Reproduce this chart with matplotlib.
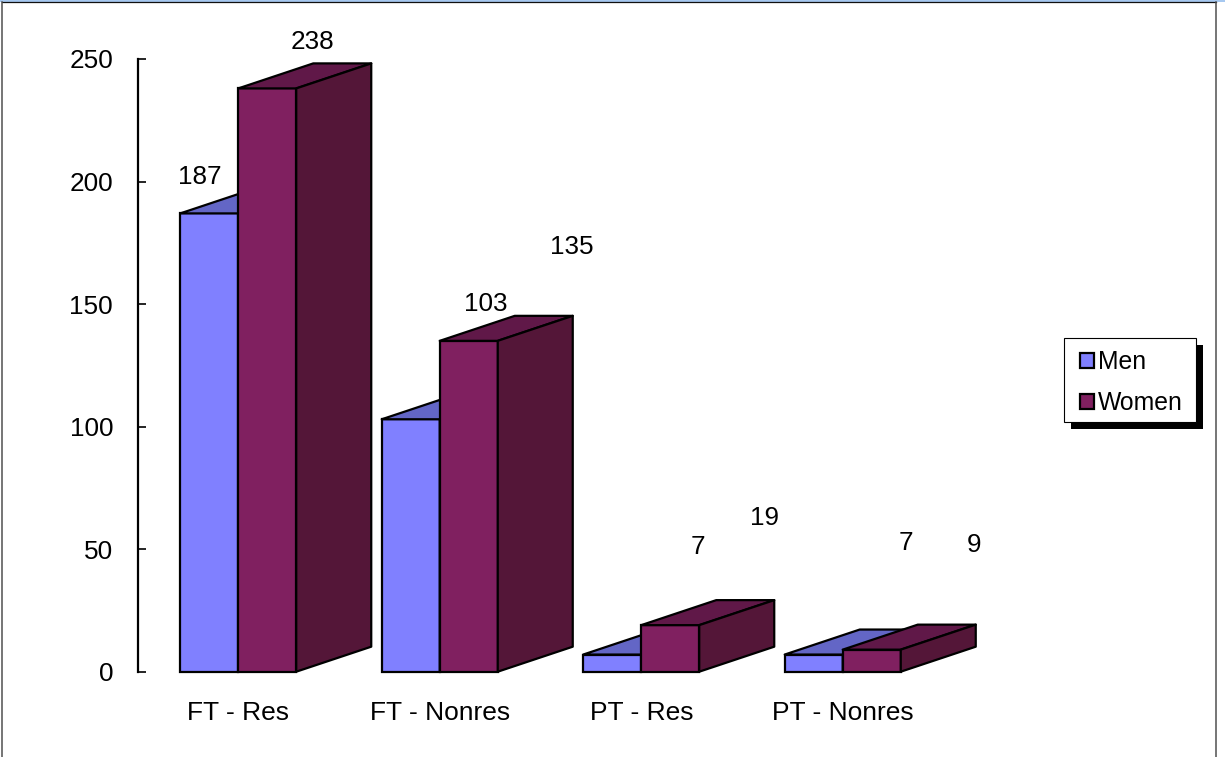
import matplotlib.pyplot as plt
from matplotlib.lines import Line2D
from matplotlib.patches import Polygon, Rectangle

plt.rcParams['font.family'] = ['Liberation Sans', 'DejaVu Sans']

categories = ["FT - Res", "FT - Nonres", "PT - Res", "PT - Nonres"]
men = [187, 103, 7, 7]
women = [238, 135, 19, 9]
y_ticks = [0, 50, 100, 150, 200, 250]

# where the value labels sit, pixels away from the top middle of the bar
men_offsets = [(-9.5, 36), (74.5, 115.5), (85.5, 108), (92.5, 112)]
women_offsets = [(45, 46), (103.5, 93.5), (94.5, 107), (102.5, 105)]

W, H = 1225, 757
fig = plt.figure(figsize=(W / 100, H / 100), dpi=100, facecolor='white')
ax = fig.add_axes([137.5 / W, 1 - 671.7 / H, 806 / W, 612.7 / H])
ax.set_xlim(-0.5, 3.5)
ax.set_ylim(0, 250)
ax.patch.set_alpha(0)

bar_w = 58 / 201.5
depth_x = 75 / 201.5
depth_y = 25 / 2.45
lw = 1.6


def draw_bars(x_left, values, front, top, side, label, offsets):
    bars = ax.bar(x_left, values, bar_w, align='edge', color=front, edgecolor='black',
                  linewidth=lw, label=label, clip_on=False, zorder=3)
    for bar, v, off in zip(bars, values, offsets):
        x0 = bar.get_x()
        x1 = x0 + bar_w
        top_face = [(x0, v), (x1, v), (x1 + depth_x, v + depth_y), (x0 + depth_x, v + depth_y)]
        side_face = [(x1, 0), (x1 + depth_x, depth_y), (x1 + depth_x, v + depth_y), (x1, v)]
        ax.add_patch(Polygon(top_face, facecolor=top, edgecolor='black', linewidth=lw,
                             joinstyle='round', clip_on=False, zorder=3))
        ax.add_patch(Polygon(side_face, facecolor=side, edgecolor='black', linewidth=lw,
                             joinstyle='round', clip_on=False, zorder=3))
        ax.annotate(str(v), (x0 + bar_w / 2, v), xytext=off, textcoords='offset pixels',
                    ha='center', va='center', fontsize=18.8, zorder=6)


for i in range(len(categories)):
    # men first so the women block covers them, group by group
    draw_bars([i - bar_w], [men[i]], '#8080ff', '#6366c6', '#40408c',
              'Men' if i == 0 else None, [men_offsets[i]])
    draw_bars([i], [women[i]], '#802060', '#601848', '#541638',
              'Women' if i == 0 else None, [women_offsets[i]])

ax.set_xticks(range(len(categories)))
ax.set_xticklabels(categories, fontsize=19)
ax.tick_params(axis='x', length=0, pad=21)
ax.set_yticks(y_ticks)
ax.tick_params(axis='y', direction='in', length=5.8, width=1.2, pad=17.6, labelsize=18.8)
for name in ['top', 'right', 'bottom']:
    ax.spines[name].set_visible(False)
ax.spines['left'].set_linewidth(1.6)

# legend box and its hard shadow, the entries go on top without a frame
fig.add_artist(Rectangle((1071 / W, 1 - 429 / H), 132 / W, 84 / H, transform=fig.transFigure,
                         facecolor='black', edgecolor='none'))
fig.add_artist(Rectangle((1064 / W, 1 - 422 / H), 132 / W, 84 / H, transform=fig.transFigure,
                         facecolor='white', edgecolor='black', linewidth=0.8))
leg = fig.legend(loc='upper left', bbox_to_anchor=(1080 / W, 1 - 350.4 / H), borderaxespad=0,
                 fontsize=17.8, frameon=False, handlelength=0.55, handleheight=0.55,
                 handletextpad=0.16, labelspacing=0.68, borderpad=0)
leg.set_zorder(5)

# outer chart frame and the blue strip along the top
fig.add_artist(Rectangle((0, 1 - 1.5 / H), 1, 1.5 / H, transform=fig.transFigure,
                         facecolor='#a6c8f0', edgecolor='none'))
fig.add_artist(Line2D([2 / W, 1216 / W], [1 - 2 / H, 1 - 2 / H], color='#101010', lw=0.9))
fig.add_artist(Line2D([2 / W, 2 / W], [0, 1 - 2 / H], color='#505050', lw=1.1))
fig.add_artist(Line2D([1216 / W, 1216 / W], [0, 1 - 2 / H], color='#505050', lw=1.1))

fig.savefig('out.png', dpi=100)
